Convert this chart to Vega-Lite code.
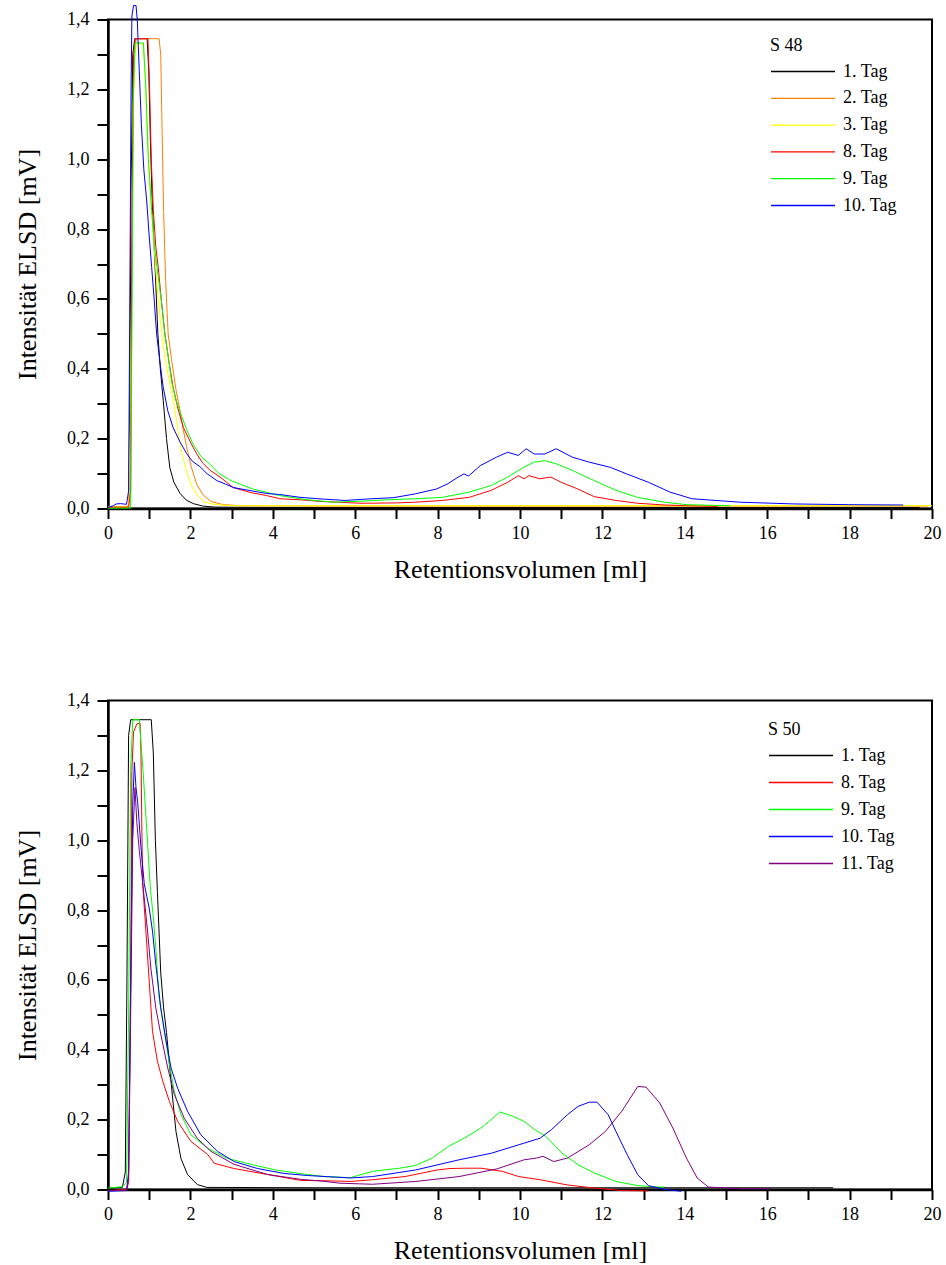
{
"$schema": "https://vega.github.io/schema/vega-lite/v6.json",
"padding": {"left": 13, "top": 2.5, "right": 0, "bottom": 0},
"datasets": {
"s48": [
{"s":"1. Tag","x":0,"y":0.003},{"s":"1. Tag","x":0.45,"y":0.003},{"s":"1. Tag","x":0.5,"y":0.01},{"s":"1. Tag","x":0.53,"y":0.3},{"s":"1. Tag","x":0.56,"y":0.9},{"s":"1. Tag","x":0.6,"y":1.3},{"s":"1. Tag","x":0.65,"y":1.345},{"s":"1. Tag","x":0.95,"y":1.345},{"s":"1. Tag","x":0.99,"y":1.25},{"s":"1. Tag","x":1.03,"y":1.05},{"s":"1. Tag","x":1.08,"y":0.85},{"s":"1. Tag","x":1.14,"y":0.7},{"s":"1. Tag","x":1.21,"y":0.5},{"s":"1. Tag","x":1.27,"y":0.4},{"s":"1. Tag","x":1.34,"y":0.31},{"s":"1. Tag","x":1.42,"y":0.2},{"s":"1. Tag","x":1.5,"y":0.117},{"s":"1. Tag","x":1.6,"y":0.075},{"s":"1. Tag","x":1.75,"y":0.043},{"s":"1. Tag","x":1.9,"y":0.024},{"s":"1. Tag","x":2.07,"y":0.014},{"s":"1. Tag","x":2.3,"y":0.007},{"s":"1. Tag","x":2.6,"y":0.004},{"s":"1. Tag","x":4,"y":0.003},{"s":"1. Tag","x":10,"y":0.003},{"s":"1. Tag","x":19.7,"y":0.003},
{"s":"2. Tag","x":0,"y":0.003},{"s":"2. Tag","x":0.5,"y":0.003},{"s":"2. Tag","x":0.55,"y":0.3},{"s":"2. Tag","x":0.6,"y":1.1},{"s":"2. Tag","x":0.65,"y":1.33},{"s":"2. Tag","x":0.7,"y":1.345},{"s":"2. Tag","x":1.24,"y":1.345},{"s":"2. Tag","x":1.28,"y":1.3},{"s":"2. Tag","x":1.31,"y":1.1},{"s":"2. Tag","x":1.35,"y":0.85},{"s":"2. Tag","x":1.4,"y":0.65},{"s":"2. Tag","x":1.46,"y":0.5},{"s":"2. Tag","x":1.55,"y":0.42},{"s":"2. Tag","x":1.65,"y":0.34},{"s":"2. Tag","x":1.74,"y":0.285},{"s":"2. Tag","x":1.82,"y":0.23},{"s":"2. Tag","x":1.92,"y":0.17},{"s":"2. Tag","x":2.02,"y":0.12},{"s":"2. Tag","x":2.15,"y":0.07},{"s":"2. Tag","x":2.3,"y":0.04},{"s":"2. Tag","x":2.5,"y":0.02},{"s":"2. Tag","x":2.8,"y":0.011},{"s":"2. Tag","x":3.2,"y":0.008},{"s":"2. Tag","x":5,"y":0.007},{"s":"2. Tag","x":12,"y":0.007},{"s":"2. Tag","x":19.9,"y":0.007},
{"s":"3. Tag","x":0,"y":0.006},{"s":"3. Tag","x":0.5,"y":0.006},{"s":"3. Tag","x":0.55,"y":0.3},{"s":"3. Tag","x":0.6,"y":1.1},{"s":"3. Tag","x":0.65,"y":1.3},{"s":"3. Tag","x":0.7,"y":1.33},{"s":"3. Tag","x":0.85,"y":1.33},{"s":"3. Tag","x":0.9,"y":1.25},{"s":"3. Tag","x":0.96,"y":1.05},{"s":"3. Tag","x":1.03,"y":0.9},{"s":"3. Tag","x":1.1,"y":0.78},{"s":"3. Tag","x":1.18,"y":0.65},{"s":"3. Tag","x":1.28,"y":0.53},{"s":"3. Tag","x":1.38,"y":0.43},{"s":"3. Tag","x":1.48,"y":0.37},{"s":"3. Tag","x":1.6,"y":0.3},{"s":"3. Tag","x":1.7,"y":0.22},{"s":"3. Tag","x":1.8,"y":0.155},{"s":"3. Tag","x":1.92,"y":0.1},{"s":"3. Tag","x":2.05,"y":0.06},{"s":"3. Tag","x":2.2,"y":0.033},{"s":"3. Tag","x":2.35,"y":0.018},{"s":"3. Tag","x":2.6,"y":0.011},{"s":"3. Tag","x":3,"y":0.008},{"s":"3. Tag","x":10,"y":0.008},{"s":"3. Tag","x":20,"y":0.008},
{"s":"8. Tag","x":0,"y":0.004},{"s":"8. Tag","x":0.5,"y":0.004},{"s":"8. Tag","x":0.55,"y":0.05},{"s":"8. Tag","x":0.58,"y":0.8},{"s":"8. Tag","x":0.62,"y":1.3},{"s":"8. Tag","x":0.66,"y":1.345},{"s":"8. Tag","x":0.97,"y":1.345},{"s":"8. Tag","x":1.01,"y":1.2},{"s":"8. Tag","x":1.05,"y":1.0},{"s":"8. Tag","x":1.1,"y":0.855},{"s":"8. Tag","x":1.16,"y":0.75},{"s":"8. Tag","x":1.22,"y":0.69},{"s":"8. Tag","x":1.3,"y":0.59},{"s":"8. Tag","x":1.38,"y":0.5},{"s":"8. Tag","x":1.48,"y":0.42},{"s":"8. Tag","x":1.58,"y":0.347},{"s":"8. Tag","x":1.7,"y":0.285},{"s":"8. Tag","x":1.83,"y":0.232},{"s":"8. Tag","x":2.0,"y":0.19},{"s":"8. Tag","x":2.15,"y":0.157},{"s":"8. Tag","x":2.3,"y":0.13},{"s":"8. Tag","x":2.48,"y":0.109},{"s":"8. Tag","x":2.72,"y":0.09},{"s":"8. Tag","x":3.04,"y":0.06},{"s":"8. Tag","x":3.45,"y":0.046},{"s":"8. Tag","x":3.85,"y":0.037},{"s":"8. Tag","x":4.17,"y":0.028},{"s":"8. Tag","x":4.66,"y":0.025},{"s":"8. Tag","x":5.2,"y":0.02},{"s":"8. Tag","x":6.14,"y":0.015},{"s":"8. Tag","x":7.0,"y":0.016},{"s":"8. Tag","x":7.46,"y":0.018},{"s":"8. Tag","x":8.12,"y":0.023},{"s":"8. Tag","x":8.77,"y":0.032},{"s":"8. Tag","x":9.3,"y":0.052},{"s":"8. Tag","x":9.7,"y":0.075},{"s":"8. Tag","x":9.96,"y":0.094},{"s":"8. Tag","x":10.1,"y":0.085},{"s":"8. Tag","x":10.22,"y":0.094},{"s":"8. Tag","x":10.48,"y":0.085},{"s":"8. Tag","x":10.75,"y":0.09},{"s":"8. Tag","x":11.0,"y":0.075},{"s":"8. Tag","x":11.4,"y":0.056},{"s":"8. Tag","x":11.8,"y":0.034},{"s":"8. Tag","x":12.33,"y":0.023},{"s":"8. Tag","x":12.85,"y":0.015},{"s":"8. Tag","x":13.51,"y":0.01},{"s":"8. Tag","x":14.04,"y":0.008},{"s":"8. Tag","x":14.8,"y":0.006},
{"s":"9. Tag","x":0,"y":0.001},{"s":"9. Tag","x":0.55,"y":0.001},{"s":"9. Tag","x":0.58,"y":0.5},{"s":"9. Tag","x":0.62,"y":1.2},{"s":"9. Tag","x":0.66,"y":1.333},{"s":"9. Tag","x":0.86,"y":1.333},{"s":"9. Tag","x":0.92,"y":1.2},{"s":"9. Tag","x":0.98,"y":1.0},{"s":"9. Tag","x":1.06,"y":0.853},{"s":"9. Tag","x":1.12,"y":0.76},{"s":"9. Tag","x":1.2,"y":0.68},{"s":"9. Tag","x":1.3,"y":0.59},{"s":"9. Tag","x":1.38,"y":0.5},{"s":"9. Tag","x":1.48,"y":0.42},{"s":"9. Tag","x":1.54,"y":0.366},{"s":"9. Tag","x":1.65,"y":0.31},{"s":"9. Tag","x":1.8,"y":0.26},{"s":"9. Tag","x":1.93,"y":0.22},{"s":"9. Tag","x":2.06,"y":0.185},{"s":"9. Tag","x":2.25,"y":0.15},{"s":"9. Tag","x":2.46,"y":0.128},{"s":"9. Tag","x":2.7,"y":0.1},{"s":"9. Tag","x":2.98,"y":0.08},{"s":"9. Tag","x":3.51,"y":0.056},{"s":"9. Tag","x":4.17,"y":0.037},{"s":"9. Tag","x":4.83,"y":0.025},{"s":"9. Tag","x":5.48,"y":0.018},{"s":"9. Tag","x":6.14,"y":0.021},{"s":"9. Tag","x":6.8,"y":0.025},{"s":"9. Tag","x":7.46,"y":0.028},{"s":"9. Tag","x":8.12,"y":0.032},{"s":"9. Tag","x":8.77,"y":0.047},{"s":"9. Tag","x":9.3,"y":0.066},{"s":"9. Tag","x":9.7,"y":0.09},{"s":"9. Tag","x":10.09,"y":0.118},{"s":"9. Tag","x":10.35,"y":0.133},{"s":"9. Tag","x":10.6,"y":0.137},{"s":"9. Tag","x":10.88,"y":0.128},{"s":"9. Tag","x":11.27,"y":0.109},{"s":"9. Tag","x":11.8,"y":0.08},{"s":"9. Tag","x":12.33,"y":0.052},{"s":"9. Tag","x":12.85,"y":0.032},{"s":"9. Tag","x":13.51,"y":0.018},{"s":"9. Tag","x":14.04,"y":0.011},{"s":"9. Tag","x":14.7,"y":0.009},{"s":"9. Tag","x":15.1,"y":0.008},
{"s":"10. Tag","x":0,"y":0.003},{"s":"10. Tag","x":0.13,"y":0.008},{"s":"10. Tag","x":0.2,"y":0.013},{"s":"10. Tag","x":0.3,"y":0.014},{"s":"10. Tag","x":0.45,"y":0.012},{"s":"10. Tag","x":0.5,"y":0.05},{"s":"10. Tag","x":0.53,"y":0.6},{"s":"10. Tag","x":0.56,"y":1.2},{"s":"10. Tag","x":0.58,"y":1.41},{"s":"10. Tag","x":0.62,"y":1.44},{"s":"10. Tag","x":0.68,"y":1.44},{"s":"10. Tag","x":0.71,"y":1.4},{"s":"10. Tag","x":0.76,"y":1.25},{"s":"10. Tag","x":0.81,"y":1.1},{"s":"10. Tag","x":0.87,"y":0.97},{"s":"10. Tag","x":0.94,"y":0.88},{"s":"10. Tag","x":1.0,"y":0.78},{"s":"10. Tag","x":1.06,"y":0.69},{"s":"10. Tag","x":1.12,"y":0.6},{"s":"10. Tag","x":1.18,"y":0.5},{"s":"10. Tag","x":1.26,"y":0.42},{"s":"10. Tag","x":1.34,"y":0.347},{"s":"10. Tag","x":1.45,"y":0.28},{"s":"10. Tag","x":1.58,"y":0.232},{"s":"10. Tag","x":1.75,"y":0.19},{"s":"10. Tag","x":1.91,"y":0.157},{"s":"10. Tag","x":2.05,"y":0.135},{"s":"10. Tag","x":2.23,"y":0.12},{"s":"10. Tag","x":2.4,"y":0.1},{"s":"10. Tag","x":2.64,"y":0.08},{"s":"10. Tag","x":2.85,"y":0.07},{"s":"10. Tag","x":3.04,"y":0.06},{"s":"10. Tag","x":3.51,"y":0.05},{"s":"10. Tag","x":3.85,"y":0.043},{"s":"10. Tag","x":4.17,"y":0.04},{"s":"10. Tag","x":4.66,"y":0.032},{"s":"10. Tag","x":5.09,"y":0.028},{"s":"10. Tag","x":5.75,"y":0.023},{"s":"10. Tag","x":6.4,"y":0.028},{"s":"10. Tag","x":6.93,"y":0.031},{"s":"10. Tag","x":7.46,"y":0.042},{"s":"10. Tag","x":7.98,"y":0.056},{"s":"10. Tag","x":8.25,"y":0.071},{"s":"10. Tag","x":8.5,"y":0.09},{"s":"10. Tag","x":8.64,"y":0.099},{"s":"10. Tag","x":8.75,"y":0.093},{"s":"10. Tag","x":9.04,"y":0.123},{"s":"10. Tag","x":9.43,"y":0.147},{"s":"10. Tag","x":9.7,"y":0.161},{"s":"10. Tag","x":9.96,"y":0.152},{"s":"10. Tag","x":10.15,"y":0.171},{"s":"10. Tag","x":10.35,"y":0.156},{"s":"10. Tag","x":10.6,"y":0.156},{"s":"10. Tag","x":10.88,"y":0.171},{"s":"10. Tag","x":11.27,"y":0.147},{"s":"10. Tag","x":11.67,"y":0.133},{"s":"10. Tag","x":12.19,"y":0.118},{"s":"10. Tag","x":12.59,"y":0.099},{"s":"10. Tag","x":13.12,"y":0.075},{"s":"10. Tag","x":13.64,"y":0.047},{"s":"10. Tag","x":14.17,"y":0.028},{"s":"10. Tag","x":15.35,"y":0.018},{"s":"10. Tag","x":16.67,"y":0.013},{"s":"10. Tag","x":17.98,"y":0.011},{"s":"10. Tag","x":19.3,"y":0.01}
],
"s50": [
{"s":"1. Tag","x":0,"y":0.004},{"s":"1. Tag","x":0.35,"y":0.006},{"s":"1. Tag","x":0.42,"y":0.05},{"s":"1. Tag","x":0.46,"y":0.6},{"s":"1. Tag","x":0.5,"y":1.3},{"s":"1. Tag","x":0.55,"y":1.345},{"s":"1. Tag","x":1.05,"y":1.345},{"s":"1. Tag","x":1.1,"y":1.25},{"s":"1. Tag","x":1.15,"y":1.0},{"s":"1. Tag","x":1.2,"y":0.85},{"s":"1. Tag","x":1.28,"y":0.62},{"s":"1. Tag","x":1.35,"y":0.52},{"s":"1. Tag","x":1.42,"y":0.45},{"s":"1. Tag","x":1.49,"y":0.36},{"s":"1. Tag","x":1.57,"y":0.26},{"s":"1. Tag","x":1.65,"y":0.166},{"s":"1. Tag","x":1.77,"y":0.089},{"s":"1. Tag","x":1.93,"y":0.043},{"s":"1. Tag","x":2.17,"y":0.014},{"s":"1. Tag","x":2.4,"y":0.006},{"s":"1. Tag","x":5,"y":0.005},{"s":"1. Tag","x":17.6,"y":0.005},
{"s":"8. Tag","x":0,"y":-0.003},{"s":"8. Tag","x":0.45,"y":0.0},{"s":"8. Tag","x":0.5,"y":0.02},{"s":"8. Tag","x":0.55,"y":0.6},{"s":"8. Tag","x":0.58,"y":1.2},{"s":"8. Tag","x":0.62,"y":1.31},{"s":"8. Tag","x":0.7,"y":1.333},{"s":"8. Tag","x":0.78,"y":1.335},{"s":"8. Tag","x":0.8,"y":1.25},{"s":"8. Tag","x":0.82,"y":1.047},{"s":"8. Tag","x":0.84,"y":0.88},{"s":"8. Tag","x":0.92,"y":0.74},{"s":"8. Tag","x":1.0,"y":0.597},{"s":"8. Tag","x":1.08,"y":0.453},{"s":"8. Tag","x":1.2,"y":0.367},{"s":"8. Tag","x":1.33,"y":0.31},{"s":"8. Tag","x":1.49,"y":0.252},{"s":"8. Tag","x":1.69,"y":0.195},{"s":"8. Tag","x":2.01,"y":0.138},{"s":"8. Tag","x":2.42,"y":0.1},{"s":"8. Tag","x":2.58,"y":0.075},{"s":"8. Tag","x":3.06,"y":0.06},{"s":"8. Tag","x":3.87,"y":0.043},{"s":"8. Tag","x":4.68,"y":0.026},{"s":"8. Tag","x":5.3,"y":0.025},{"s":"8. Tag","x":5.89,"y":0.023},{"s":"8. Tag","x":6.42,"y":0.028},{"s":"8. Tag","x":7.21,"y":0.037},{"s":"8. Tag","x":7.99,"y":0.056},{"s":"8. Tag","x":8.3,"y":0.06},{"s":"8. Tag","x":8.65,"y":0.061},{"s":"8. Tag","x":9.05,"y":0.061},{"s":"8. Tag","x":9.57,"y":0.052},{"s":"8. Tag","x":9.97,"y":0.037},{"s":"8. Tag","x":10.49,"y":0.028},{"s":"8. Tag","x":11.15,"y":0.013},{"s":"8. Tag","x":11.81,"y":0.004},{"s":"8. Tag","x":12.47,"y":-0.003},{"s":"8. Tag","x":13.12,"y":-0.004},
{"s":"9. Tag","x":0,"y":0.004},{"s":"9. Tag","x":0.35,"y":0.008},{"s":"9. Tag","x":0.45,"y":0.02},{"s":"9. Tag","x":0.5,"y":0.5},{"s":"9. Tag","x":0.55,"y":1.2},{"s":"9. Tag","x":0.6,"y":1.345},{"s":"9. Tag","x":0.76,"y":1.345},{"s":"9. Tag","x":0.85,"y":1.2},{"s":"9. Tag","x":0.93,"y":1.05},{"s":"9. Tag","x":1.03,"y":0.86},{"s":"9. Tag","x":1.1,"y":0.78},{"s":"9. Tag","x":1.16,"y":0.69},{"s":"9. Tag","x":1.24,"y":0.55},{"s":"9. Tag","x":1.37,"y":0.45},{"s":"9. Tag","x":1.49,"y":0.36},{"s":"9. Tag","x":1.61,"y":0.28},{"s":"9. Tag","x":1.77,"y":0.215},{"s":"9. Tag","x":2.01,"y":0.157},{"s":"9. Tag","x":2.42,"y":0.118},{"s":"9. Tag","x":2.9,"y":0.089},{"s":"9. Tag","x":3.47,"y":0.072},{"s":"9. Tag","x":4.06,"y":0.056},{"s":"9. Tag","x":4.58,"y":0.047},{"s":"9. Tag","x":5.24,"y":0.037},{"s":"9. Tag","x":5.89,"y":0.034},{"s":"9. Tag","x":6.42,"y":0.052},{"s":"9. Tag","x":7.08,"y":0.061},{"s":"9. Tag","x":7.47,"y":0.069},{"s":"9. Tag","x":7.87,"y":0.09},{"s":"9. Tag","x":8.26,"y":0.123},{"s":"9. Tag","x":8.65,"y":0.147},{"s":"9. Tag","x":9.05,"y":0.176},{"s":"9. Tag","x":9.3,"y":0.2},{"s":"9. Tag","x":9.51,"y":0.222},{"s":"9. Tag","x":9.84,"y":0.209},{"s":"9. Tag","x":10.1,"y":0.195},{"s":"9. Tag","x":10.36,"y":0.171},{"s":"9. Tag","x":10.63,"y":0.152},{"s":"9. Tag","x":11.02,"y":0.104},{"s":"9. Tag","x":11.41,"y":0.071},{"s":"9. Tag","x":11.81,"y":0.047},{"s":"9. Tag","x":12.33,"y":0.023},{"s":"9. Tag","x":12.86,"y":0.011},{"s":"9. Tag","x":13.39,"y":0.007},{"s":"9. Tag","x":13.5,"y":0.007},
{"s":"10. Tag","x":0,"y":-0.005},{"s":"10. Tag","x":0.45,"y":-0.003},{"s":"10. Tag","x":0.5,"y":0.05},{"s":"10. Tag","x":0.55,"y":0.6},{"s":"10. Tag","x":0.6,"y":1.1},{"s":"10. Tag","x":0.64,"y":1.223},{"s":"10. Tag","x":0.68,"y":1.15},{"s":"10. Tag","x":0.72,"y":1.11},{"s":"10. Tag","x":0.8,"y":0.98},{"s":"10. Tag","x":0.88,"y":0.875},{"s":"10. Tag","x":0.94,"y":0.84},{"s":"10. Tag","x":1.0,"y":0.806},{"s":"10. Tag","x":1.08,"y":0.74},{"s":"10. Tag","x":1.16,"y":0.645},{"s":"10. Tag","x":1.28,"y":0.52},{"s":"10. Tag","x":1.41,"y":0.425},{"s":"10. Tag","x":1.53,"y":0.348},{"s":"10. Tag","x":1.69,"y":0.29},{"s":"10. Tag","x":1.93,"y":0.224},{"s":"10. Tag","x":2.25,"y":0.157},{"s":"10. Tag","x":2.66,"y":0.109},{"s":"10. Tag","x":3.06,"y":0.08},{"s":"10. Tag","x":3.63,"y":0.06},{"s":"10. Tag","x":4.27,"y":0.046},{"s":"10. Tag","x":4.84,"y":0.04},{"s":"10. Tag","x":5.89,"y":0.033},{"s":"10. Tag","x":6.42,"y":0.037},{"s":"10. Tag","x":7.47,"y":0.056},{"s":"10. Tag","x":8.52,"y":0.085},{"s":"10. Tag","x":9.31,"y":0.104},{"s":"10. Tag","x":9.97,"y":0.128},{"s":"10. Tag","x":10.49,"y":0.147},{"s":"10. Tag","x":10.76,"y":0.171},{"s":"10. Tag","x":11.15,"y":0.214},{"s":"10. Tag","x":11.41,"y":0.238},{"s":"10. Tag","x":11.68,"y":0.25},{"s":"10. Tag","x":11.87,"y":0.25},{"s":"10. Tag","x":12.14,"y":0.214},{"s":"10. Tag","x":12.33,"y":0.166},{"s":"10. Tag","x":12.6,"y":0.1},{"s":"10. Tag","x":12.86,"y":0.042},{"s":"10. Tag","x":13.12,"y":0.011},{"s":"10. Tag","x":13.52,"y":0.0},{"s":"10. Tag","x":13.91,"y":-0.005},
{"s":"11. Tag","x":0,"y":-0.003},{"s":"11. Tag","x":0.45,"y":-0.002},{"s":"11. Tag","x":0.5,"y":0.03},{"s":"11. Tag","x":0.55,"y":0.5},{"s":"11. Tag","x":0.6,"y":1.0},{"s":"11. Tag","x":0.655,"y":1.151},{"s":"11. Tag","x":0.7,"y":1.05},{"s":"11. Tag","x":0.76,"y":0.97},{"s":"11. Tag","x":0.84,"y":0.88},{"s":"11. Tag","x":0.96,"y":0.74},{"s":"11. Tag","x":1.04,"y":0.634},{"s":"11. Tag","x":1.16,"y":0.52},{"s":"11. Tag","x":1.28,"y":0.445},{"s":"11. Tag","x":1.45,"y":0.348},{"s":"11. Tag","x":1.61,"y":0.272},{"s":"11. Tag","x":1.85,"y":0.204},{"s":"11. Tag","x":2.17,"y":0.146},{"s":"11. Tag","x":2.5,"y":0.109},{"s":"11. Tag","x":3.06,"y":0.072},{"s":"11. Tag","x":3.87,"y":0.043},{"s":"11. Tag","x":4.68,"y":0.029},{"s":"11. Tag","x":5.2,"y":0.024},{"s":"11. Tag","x":5.63,"y":0.018},{"s":"11. Tag","x":6.42,"y":0.015},{"s":"11. Tag","x":7.47,"y":0.023},{"s":"11. Tag","x":8.52,"y":0.037},{"s":"11. Tag","x":9.44,"y":0.059},{"s":"11. Tag","x":10.1,"y":0.085},{"s":"11. Tag","x":10.4,"y":0.09},{"s":"11. Tag","x":10.56,"y":0.095},{"s":"11. Tag","x":10.82,"y":0.08},{"s":"11. Tag","x":11.15,"y":0.09},{"s":"11. Tag","x":11.68,"y":0.128},{"s":"11. Tag","x":12.07,"y":0.166},{"s":"11. Tag","x":12.47,"y":0.224},{"s":"11. Tag","x":12.86,"y":0.295},{"s":"11. Tag","x":13.06,"y":0.293},{"s":"11. Tag","x":13.39,"y":0.248},{"s":"11. Tag","x":13.71,"y":0.176},{"s":"11. Tag","x":14.04,"y":0.09},{"s":"11. Tag","x":14.3,"y":0.033},{"s":"11. Tag","x":14.57,"y":0.007},{"s":"11. Tag","x":15.36,"y":0.002},{"s":"11. Tag","x":16.08,"y":0.002}
]
},
"vconcat": [
{
"width": 824, "height": 489,
"data": {"name": "s48"},
"mark": {"type": "line", "strokeWidth": 1},
"encoding": {
"x": {"field": "x", "type": "quantitative", "scale": {"domain": [0, 20], "nice": false},
 "axis": {"title": "Retentionsvolumen [ml]", "values": [0,1,2,3,4,5,6,7,8,9,10,11,12,13,14,15,16,17,18,19,20],
  "labelExpr": "round(datum.value) % 2 === 0 ? datum.label : ''",
  "encode": {"ticks": {"update": {"y2": {"signal": "round(datum.value) % 2 === 0 ? 10 : 6"}}}}}},
"y": {"field": "y", "type": "quantitative", "scale": {"domain": [0, 1.4], "nice": false, "zero": false},
 "axis": {"title": "Intensität ELSD [mV]", "values": [0,0.1,0.2,0.3,0.4,0.5,0.6,0.7,0.8,0.9,1,1.1,1.2,1.3,1.4],
  "labelExpr": "round(datum.value*10) % 2 === 0 ? replace(format(datum.value, '.1f'), '.', ',') : ''",
  "encode": {"ticks": {"update": {"x2": {"signal": "round(datum.value*10) % 2 === 0 ? -11 : -6"}}}}}},
"color": {"field": "s", "type": "nominal",
 "scale": {"domain": ["1. Tag","2. Tag","3. Tag","8. Tag","9. Tag","10. Tag"], "range": ["#000000","#FF8000","#FFFF00","#FF0000","#00FF00","#0000FF"]},
 "legend": {"orient": "none", "legendX": 662, "legendY": 17.7, "title": "S 48", "titlePadding": 7.3, "rowPadding": 8.8}}
}
},
{
"width": 824, "height": 489,
"data": {"name": "s50"},
"mark": {"type": "line", "strokeWidth": 1},
"encoding": {
"x": {"field": "x", "type": "quantitative", "scale": {"domain": [0, 20], "nice": false},
 "axis": {"title": "Retentionsvolumen [ml]", "values": [0,1,2,3,4,5,6,7,8,9,10,11,12,13,14,15,16,17,18,19,20],
  "labelExpr": "round(datum.value) % 2 === 0 ? datum.label : ''",
  "encode": {"ticks": {"update": {"y2": {"signal": "round(datum.value) % 2 === 0 ? 10 : 6"}}}}}},
"y": {"field": "y", "type": "quantitative", "scale": {"domain": [0, 1.4], "nice": false, "zero": false},
 "axis": {"title": "Intensität ELSD [mV]", "values": [0,0.1,0.2,0.3,0.4,0.5,0.6,0.7,0.8,0.9,1,1.1,1.2,1.3,1.4],
  "labelExpr": "round(datum.value*10) % 2 === 0 ? replace(format(datum.value, '.1f'), '.', ',') : ''",
  "encode": {"ticks": {"update": {"x2": {"signal": "round(datum.value*10) % 2 === 0 ? -11 : -6"}}}}}},
"color": {"field": "s", "type": "nominal",
 "scale": {"domain": ["1. Tag","8. Tag","9. Tag","10. Tag","11. Tag"], "range": ["#000000","#FF0000","#00FF00","#0000FF","#800080"]},
 "legend": {"orient": "none", "legendX": 660, "legendY": 20.7, "title": "S 50", "titlePadding": 7.3, "rowPadding": 9}}
}
}
],
"spacing": 192,
"bounds": "flush",
"resolve": {"scale": {"color": "independent"}, "legend": {"color": "independent"}},
"config": {
"font": "Liberation Serif",
"view": {"stroke": "black", "strokeWidth": 2},
"axis": {"grid": false, "domainColor": "black", "domainWidth": 2.5, "tickColor": "black", "tickWidth": 2, "tickSize": 11,
 "labelFont": "Liberation Serif", "labelFontSize": 18, "labelColor": "black", "labelOverlap": false, "labelFlush": false, "labelPadding": 8,
 "titleFont": "Liberation Serif", "titleFontSize": 26, "titleFontWeight": "normal", "titleColor": "black"},
"axisX": {"tickSize": 10, "labelPadding": 6, "titlePadding": 14},
"axisY": {"titlePadding": 26},
"legend": {"padding": 0, "titleFont": "Liberation Serif", "titleFontSize": 18, "titleFontWeight": "normal", "titleColor": "black",
 "labelFont": "Liberation Serif", "labelFontSize": 18, "labelColor": "black",
 "symbolType": "M-1,0H7", "symbolSize": 256, "symbolStrokeWidth": 1.3, "labelOffset": 55}
}
}
